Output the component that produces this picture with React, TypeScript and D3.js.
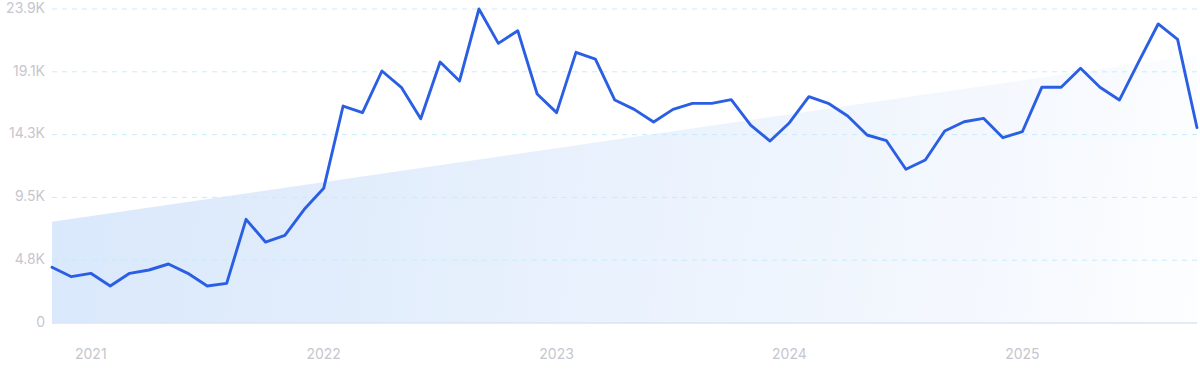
import React from "react";
import * as d3 from "d3";

const values: number[] = [
  4240, 3525, 3780, 2816, 3780, 4034, 4490, 3780, 2816, 3020,
  7890, 6165, 6670, 8650, 10250, 16515, 16010, 19180, 17940, 15550,
  19865, 18420, 23900, 21285, 22250, 17430, 16010, 20600, 20090, 16970,
  16260, 15300, 16260, 16720, 16720, 17000, 15070, 13850, 15245, 17225,
  16720, 15755, 14310, 13875, 11700, 12405, 14610, 15320, 15580, 14105,
  14560, 17940, 17940, 19385, 17940, 16970, 19890, 22760, 21590, 14865,
];
const trendStart = 7710;
const trendEnd = 20400;
const yTicks: number[] = [0, 4780, 9560, 14340, 19120, 23900];
const yTickLabels: string[] = ["0", "4.8K", "9.5K", "14.3K", "19.1K", "23.9K"];
const xTickIndex: number[] = [2, 14, 26, 38, 50];
const xTickLabels: string[] = ["2021", "2022", "2023", "2024", "2025"];

export default function App() {
  const W = 1200;
  const H = 372;
  const left = 52;
  const right = 1197;
  const top = 9;
  const bottom = 323;

  const x = d3.scaleLinear().domain([0, values.length - 1]).range([left, right]);
  const y = d3.scaleLinear().domain([0, 23900]).range([bottom, top]);

  const line = d3
    .line<number>()
    .x((_, i) => x(i))
    .y((d) => y(d));

  const trend: [number, number][] = [
    [0, trendStart],
    [values.length - 1, trendEnd],
  ];
  const area = d3
    .area<[number, number]>()
    .x((d) => x(d[0]))
    .y0(y(0))
    .y1((d) => y(d[1]));

  const font = "Inter, 'Noto Sans', sans-serif";

  return (
    <svg
      width={W}
      height={H}
      style={{ position: "absolute", left: 0, top: 0, display: "block" }}
    >
      <defs>
        <linearGradient id="fillGrad" x1={left} y1={180} x2={right} y2={340} gradientUnits="userSpaceOnUse">
          <stop offset="0%" stopColor="#d9e8fb" />
          <stop offset="50%" stopColor="#eaf2fd" />
          <stop offset="85%" stopColor="#f6f9fe" />
          <stop offset="100%" stopColor="#fdfeff" />
        </linearGradient>
      </defs>
      <rect x={0} y={0} width={W} height={H} fill="#ffffff" />
      <path d={area(trend) || ""} fill="url(#fillGrad)" />
      {yTicks.map((t, i) =>
        i === 0 ? null : (
          <line
            key={"g" + i}
            x1={left}
            x2={right}
            y1={y(t)}
            y2={y(t)}
            stroke="#c9ebfa"
            strokeWidth={1}
            strokeDasharray="5 5"
          />
        )
      )}
      <line x1={left} x2={right} y1={y(0)} y2={y(0)} stroke="#dde4f3" strokeWidth={1.3} />
      {yTicks.map((t, i) => (
        <text
          key={"yl" + i}
          x={45}
          y={y(t)}
          textAnchor="end"
          dominantBaseline="middle"
          fontFamily={font}
          fontSize={14}
          fill="#c6c6ce"
        >
          {yTickLabels[i]}
        </text>
      ))}
      {xTickIndex.map((idx, i) => (
        <text
          key={"xl" + i}
          x={x(idx)}
          y={355}
          textAnchor="middle"
          dominantBaseline="middle"
          fontFamily={font}
          fontSize={14}
          fill="#c6c6ce"
        >
          {xTickLabels[i]}
        </text>
      ))}
      <path
        d={line(values) || ""}
        fill="none"
        stroke="#2b5fe3"
        strokeWidth={2.9}
        strokeLinejoin="round"
        strokeLinecap="round"
      />
    </svg>
  );
}
